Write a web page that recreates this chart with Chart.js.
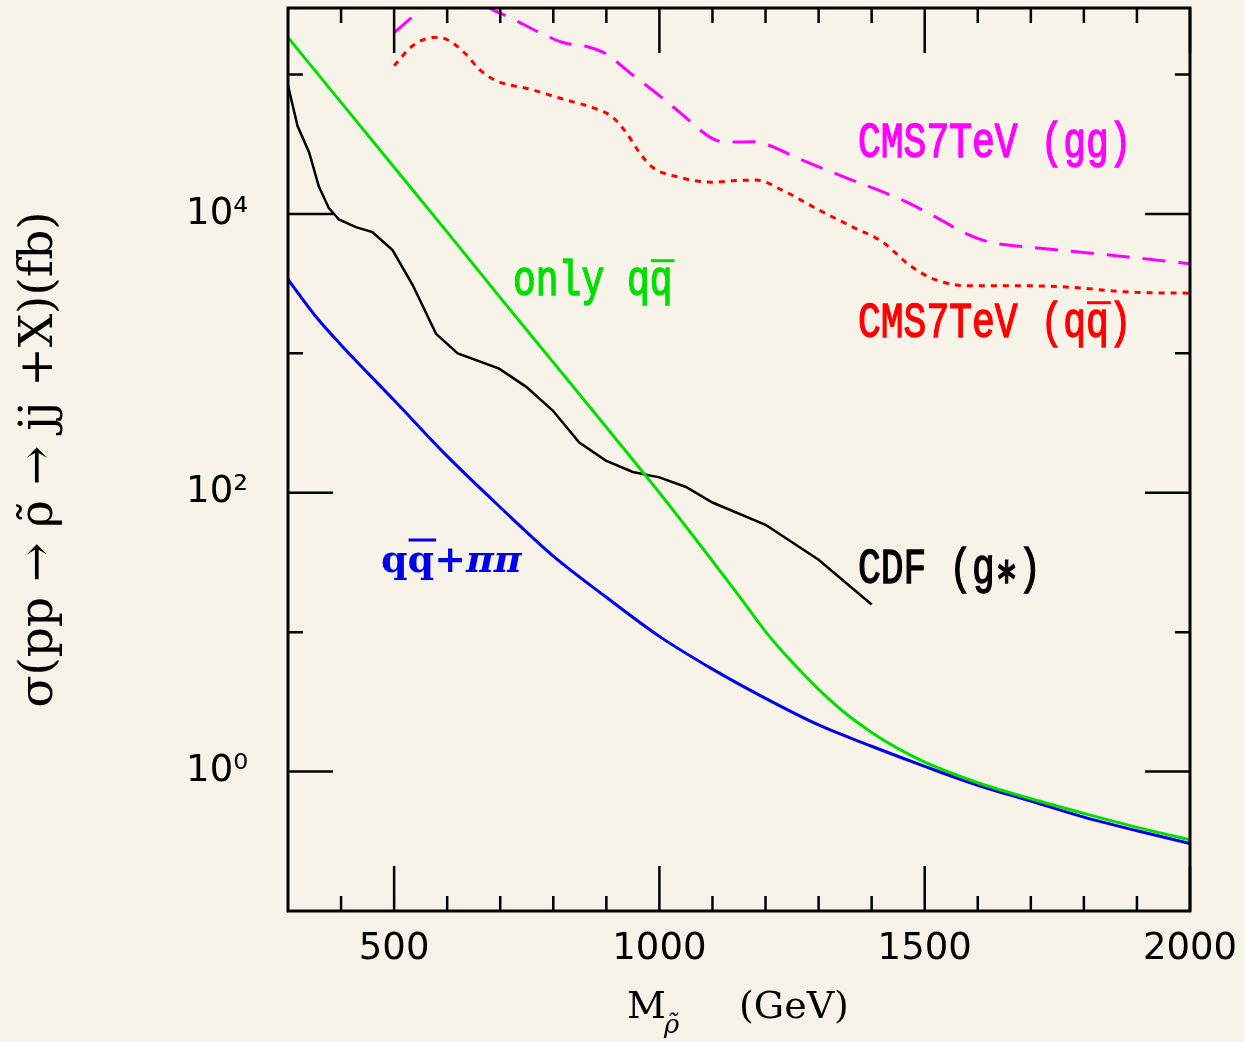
<!DOCTYPE html>
<html><head><meta charset="utf-8">
<script src="https://cdn.jsdelivr.net/npm/chart.js@4.4.0/dist/chart.umd.min.js"></script>
<style>html,body{margin:0;padding:0;background:#F7F3E8;}canvas{display:block;background:#F7F3E8;}</style>
</head><body>
<canvas id="c" width="1245" height="1042"></canvas>
<script>
// ---- data (mass in GeV, cross section in fb) ----
const onlyQQMass = [300,400,500,600,700,800,900,1000,1100,1150,1200,1250,1300,1350,1400,1450,1500,1550,1600,1700,1800,1900,2000];
const onlyQQXsec = [184500,63100,21600,7410,2510,861,295,100,32.4,18.2,10.1,6.10,3.89,2.63,1.91,1.46,1.17,0.977,0.832,0.638,0.501,0.398,0.324];

const qqPiPiMass = [300,350,400,450,500,600,700,800,900,1000,1100,1200,1300,1400,1500,1600,1700,1800,1900,2000];
const qqPiPiXsec = [3390,1884,1148,724,461,183,78.7,35.1,17.8,9.33,5.43,3.35,2.16,1.52,1.09,0.798,0.614,0.471,0.376,0.305];

const cdfMass = [300,318,340,358,377,396,428,459,497,535,579,620,698,749,799,849,899,950,1000,1050,1100,1200,1300,1400];
const cdfXsec = [83200,42700,27500,15800,11000,9120,8040,7410,5500,3090,1380,1000,776,575,389,229,170,141,129,110,85.1,58.9,33.1,15.8];

const cmsGGMass = [500,530,553,600,650,679,723,786,818,868,900,943,1000,1038,1100,1126,1176,1201,1264,1358,1453,1516,1579,1623,1704,1830,2000];
const cmsGGXsec = [199500,251000,302000,380000,363000,302000,251000,190500,169800,157000,140300,103800,70600,53600,34700,32700,33000,31600,24800,17800,12800,9730,7190,6270,5750,5160,4390];

const cmsQQMass = [500,535,576,598,635,660,692,755,818,881,912,937,962,987,1038,1076,1101,1138,1182,1233,1296,1359,1421,1472,1516,1579,1673,1767,1893,2000];
const cmsQQXsec = [115600,160700,184500,179500,140300,109400,90400,78700,66700,56600,49300,38500,27700,21600,18300,17100,16900,17300,17500,14700,10900,8240,6270,4270,3420,3060,3060,2990,2740,2700];

const seriesNames = ['only qq\u0304', 'qq\u0304+\u03C0\u03C0', 'CDF (g\u2217)', 'CMS7TeV (gg)', 'CMS7TeV (qq\u0304)'];

const xTickValues = [500, 1000, 1500, 2000];
const xMinorTickValues = [400,600,700,800,900,1100,1200,1300,1400,1600,1700,1800,1900];
const yTickValues = [1, 100, 10000];
const yTickLabels = ['10\u2070', '10\u00B2', '10\u2074'];
const yMinorTickValues = [10, 1000, 100000];

const xTitleParts = ['M', '\u03C1\u0303', '(GeV)'];
const yTitle = '\u03C3(pp \u2192 \u03C1\u0303 \u2192 jj +X)(fb)';

// ---- helpers ----
const pts = (xs, ys) => xs.map((x, i) => ({x: x, y: ys[i]}));

const MONO = '38px "Liberation Mono"';
const labelDefs = [
  {parts: [['CMS7TeV (gg)', MONO]], color: '#FF00FF', x: 858, y: 157, sy: 1.3, bar: null, barGap: 7, thick: 1.1},
  {parts: [['CMS7TeV (q', MONO], ['q', MONO], [')', MONO]], color: '#FF0000', x: 858, y: 337, sy: 1.3, bar: 1, barGap: 7, thick: 1.1},
  {parts: [['only q', MONO], ['q', MONO]], color: '#00E000', x: 513, y: 295, sy: 1.3, bar: 1, barGap: 7, thick: 1.1},
  {parts: [['CDF (g', MONO], ['\u2217', '28px "DejaVu Sans"'], [')', MONO]], color: '#000000', x: 858, y: 583, sy: 1.3, bar: null, barGap: 7, thick: 1.1},
  {parts: [['q', 'bold 38px "DejaVu Serif"'], ['q', 'bold 38px "DejaVu Serif"'], ['+', 'bold 38px "DejaVu Serif"'], ['\u03C0\u03C0', 'bold italic 38px "DejaVu Serif"']],
   color: '#0000EE', x: 381, y: 572, sy: 1.0, bar: 1, barGap: 12, thick: 0}
];

const textLabels = {
  id: 'textLabels',
  afterDraw(chart) {
    const ctx = chart.ctx;
    labelDefs.forEach(l => {
      ctx.save();
      ctx.fillStyle = l.color;
      ctx.strokeStyle = l.color;
      ctx.textBaseline = 'alphabetic';
      ctx.textAlign = 'left';
      ctx.translate(l.x, l.y);
      ctx.scale(1, l.sy);
      let cx = 0;
      l.parts.forEach((p, i) => {
        ctx.font = p[1];
        const w = ctx.measureText(p[0]).width;
        ctx.fillText(p[0], cx, 0);
        if (l.thick > 0) { ctx.lineWidth = l.thick; ctx.strokeText(p[0], cx, 0); }
        if (l.bar === i) {
          const m = ctx.measureText('q');
          const top = -(m.actualBoundingBoxAscent || 18) - l.barGap / l.sy;
          ctx.save();
          ctx.lineWidth = 3 / l.sy;
          ctx.beginPath();
          ctx.moveTo(cx + 1, top);
          ctx.lineTo(cx + w + 2, top);
          ctx.stroke();
          ctx.restore();
        }
        cx += w;
      });
      ctx.restore();
    });
    // x-axis title with subscript
    ctx.save();
    ctx.fillStyle = '#000';
    ctx.textBaseline = 'alphabetic';
    ctx.textAlign = 'left';
    ctx.font = '38px "DejaVu Serif"';
    ctx.fillText(xTitleParts[0], 627, 1018);
    ctx.font = 'italic 26px "DejaVu Serif"';
    ctx.fillText(xTitleParts[1], 664, 1033);
    ctx.font = '38px "DejaVu Serif"';
    ctx.fillText(xTitleParts[2], 739, 1018);
    ctx.restore();
  }
};

const frameTicks = {
  id: 'frameTicks',
  afterDatasetsDraw(chart) {
    const {ctx, chartArea: a, scales: {x, y}} = chart;
    ctx.save();
    ctx.strokeStyle = '#000';
    ctx.lineWidth = 2.5;
    ctx.beginPath();
    const xt = (v, len) => {
      const px = x.getPixelForValue(v);
      ctx.moveTo(px, a.bottom); ctx.lineTo(px, a.bottom - len);
      ctx.moveTo(px, a.top); ctx.lineTo(px, a.top + len);
    };
    const yt = (v, len) => {
      const py = y.getPixelForValue(v);
      ctx.moveTo(a.left, py); ctx.lineTo(a.left + len, py);
      ctx.moveTo(a.right, py); ctx.lineTo(a.right - len, py);
    };
    xTickValues.forEach(v => xt(v, 45));
    xMinorTickValues.forEach(v => xt(v, 15));
    yTickValues.forEach(v => yt(v, 45));
    yMinorTickValues.forEach(v => yt(v, 15));
    ctx.stroke();
    ctx.lineWidth = 3;
    ctx.strokeRect(a.left, a.top, a.right - a.left, a.bottom - a.top);
    ctx.restore();
  }
};

const common = {pointRadius: 0, pointHoverRadius: 0, fill: false, clip: 0, borderWidth: 3};

new Chart(document.getElementById('c'), {
  type: 'line',
  data: {
    datasets: [
      Object.assign({label: seriesNames[0], data: pts(onlyQQMass, onlyQQXsec), borderColor: '#00E000', cubicInterpolationMode: 'monotone'}, common),
      Object.assign({label: seriesNames[1], data: pts(qqPiPiMass, qqPiPiXsec), borderColor: '#0000EE', cubicInterpolationMode: 'monotone'}, common),
      Object.assign({label: seriesNames[2], data: pts(cdfMass, cdfXsec), borderColor: '#000000', tension: 0}, common, {borderWidth: 2.5}),
      Object.assign({label: seriesNames[3], data: pts(cmsGGMass, cmsGGXsec), borderColor: '#FF00FF', borderDash: [23, 13], cubicInterpolationMode: 'monotone'}, common),
      Object.assign({label: seriesNames[4], data: pts(cmsQQMass, cmsQQXsec), borderColor: '#FF0000', borderDash: [6, 6], cubicInterpolationMode: 'monotone'}, common)
    ]
  },
  options: {
    responsive: false,
    animation: false,
    devicePixelRatio: 1,
    layout: {padding: {left: 0, top: 8, right: 55, bottom: 0}},
    plugins: {legend: {display: false}, tooltip: {enabled: false}, title: {display: false}},
    scales: {
      x: {
        type: 'linear', position: 'bottom', min: 300, max: 2000,
        grid: {display: false, drawTicks: false},
        border: {display: false},
        afterBuildTicks: s => { s.ticks = xTickValues.map(v => ({value: v})); },
        afterFit: s => { s.height = 131; s.paddingLeft = 0; s.paddingRight = 0; },
        ticks: {autoSkip: false, maxRotation: 0, padding: 16, color: '#000', font: {family: '"DejaVu Sans"', size: 37},
          callback: v => String(v)},
        title: {display: false}
      },
      y: {
        type: 'logarithmic', position: 'left', min: 0.1, max: 300000,
        grid: {display: false, drawTicks: false},
        border: {display: false},
        afterBuildTicks: s => { s.ticks = yTickValues.map(v => ({value: v})); },
        afterFit: s => { s.width = 288; s.paddingTop = 0; s.paddingBottom = 0; },
        ticks: {autoSkip: false, padding: 40, color: '#000', font: {family: '"DejaVu Sans"', size: 37},
          callback: (v) => { const i = yTickValues.indexOf(v); return i >= 0 ? yTickLabels[i] : ''; }},
        title: {display: true, text: yTitle, color: '#000', font: {family: '"DejaVu Serif"', size: 47}, padding: {top: 12, bottom: 0}}
      }
    }
  },
  plugins: [frameTicks, textLabels]
});
</script>
</body></html>
